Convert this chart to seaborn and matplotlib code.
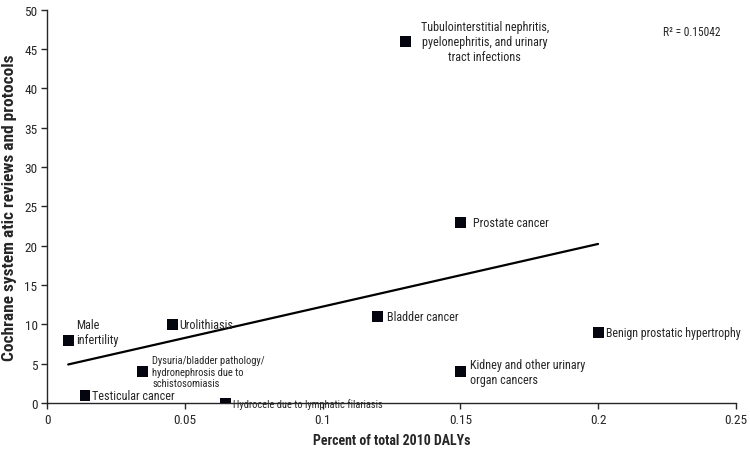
import matplotlib
matplotlib.use("Agg")
import matplotlib.pyplot as plt
import seaborn as sns
import pandas as pd

# conditions, share of 2010 DALYs (%) and Cochrane reviews/protocols
conditions = [
    "Male\ninfertility",
    "Urolithiasis",
    "Dysuria/bladder pathology/\nhydronephrosis due to\nschistosomiasis",
    "Testicular cancer",
    "Hydrocele due to lymphatic filariasis",
    "Tubulointerstitial nephritis,\npyelonephritis, and urinary\ntract infections",
    "Prostate cancer",
    "Bladder cancer",
    "Benign prostatic hypertrophy",
    "Kidney and other urinary\norgan cancers",
]
dalys = [0.0076, 0.0455, 0.0346, 0.0137, 0.0646, 0.130, 0.150, 0.120, 0.200, 0.150]
reviews = [8, 10, 4, 1, 0, 46, 23, 11, 9, 4]
r2_text = "R² = 0.15042"

df = pd.DataFrame({"cond": conditions, "dalys": dalys, "reviews": reviews})

sns.set_style("ticks")
plt.rcParams["font.family"] = ["Roboto Condensed", "Liberation Sans Narrow",
                               "Open Sans Condensed", "Roboto", "DejaVu Sans"]

fig = plt.figure(figsize=(7.5, 4.52), dpi=100)
ax = fig.add_axes([0.063, 0.106, 0.918, 0.870])

sns.regplot(data=df, x="dalys", y="reviews", scatter=False, ci=None,
            truncate=True, color="black", line_kws={"lw": 1.6}, ax=ax)
sns.scatterplot(data=df, x="dalys", y="reviews", marker="s", s=62,
                color="#05050f", edgecolor="none", ax=ax, zorder=3)

# label placement: (dx, dy) in points, size
place = {
    0: (6, 6, 8.7),
    1: (5, 0, 8.7),
    2: (7, 0, 7.6),
    3: (5, 0, 8.7),
    4: (6, 0, 7.5),
    5: (11, 0, 8.7),
    6: (9, 0, 8.7),
    7: (7, 0, 8.7),
    8: (6, 0, 8.6),
    9: (7, 0, 8.7),
}
for i, row in df.iterrows():
    dx, dy, fs = place[i]
    ax.annotate(row["cond"], (row["dalys"], row["reviews"]),
                xytext=(dx, dy), textcoords="offset points",
                ha="left", va="center", fontsize=fs,
                multialignment="center" if i == 5 else "left")

ax.text(0.2445, 47.3, r2_text, ha="right", va="center", fontsize=8.3)

ax.set_xlim(0, 0.25)
ax.set_ylim(0, 50)
ax.set_xticks([0, 0.05, 0.1, 0.15, 0.2, 0.25])
ax.set_xticklabels(["0", "0.05", "0.1", "0.15", "0.2", "0.25"])
ax.set_yticks(range(0, 51, 5))
ax.tick_params(labelsize=9.5, length=4, width=1, direction="out", pad=3)
ax.set_xlabel("Percent of total 2010 DALYs", fontsize=10,
              fontweight="bold", labelpad=5)
ax.set_ylabel("Cochrane system atic reviews and protocols", fontsize=12.5,
              fontweight="bold", labelpad=5)
for sp in ["top", "right"]:
    ax.spines[sp].set_visible(False)
ax.spines["left"].set_linewidth(1)
ax.spines["bottom"].set_linewidth(1)

fig.savefig("out.png", dpi=100)
